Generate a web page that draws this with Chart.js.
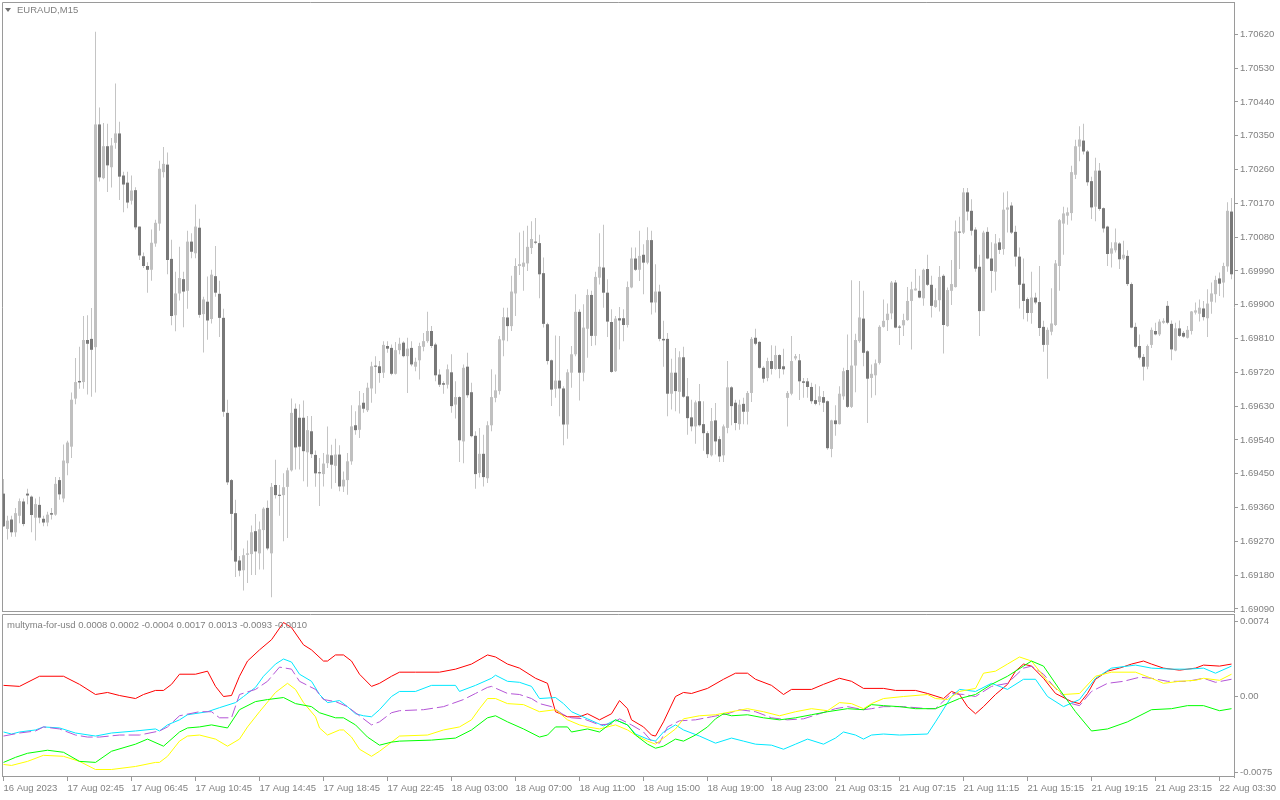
<!DOCTYPE html>
<html>
<head>
<meta charset="utf-8">
<script src="https://cdn.jsdelivr.net/npm/chart.js@4.4.0/dist/chart.umd.min.js"></script>
<style>
html,body{margin:0;padding:0;background:#fff;width:1280px;height:800px;overflow:hidden;}
#main{position:absolute;left:0;top:0;}
#ind{position:absolute;left:0;top:613px;}
.lbl{position:absolute;font-family:"Liberation Sans",Arial,sans-serif;font-size:9.5px;color:#808080;white-space:nowrap;line-height:11px;}
#tri{position:absolute;left:5px;top:8px;width:0;height:0;border-left:3px solid transparent;border-right:3px solid transparent;border-top:4px solid #707070;}
</style>
</head>
<body>
<canvas id="main" width="1280" height="613"></canvas>
<canvas id="ind" width="1280" height="187"></canvas>
<div id="tri"></div>
<div class="lbl" style="left:17px;top:4px;">EURAUD,M15</div>
<div class="lbl" style="left:7px;top:619px;">multyma-for-usd 0.0008 0.0002 -0.0004 0.0017 0.0013 -0.0093 -0.0010</div>
<script>
// ---------------- DATA ----------------
const opens = [
1.69397,1.69303,1.69328,1.69294,1.69338,1.69376,1.69397,1.69389,1.69333,1.69367,
1.69330,1.69320,1.69345,1.69341,1.69433,1.69384,1.69478,1.69522,1.69650,1.69697,
1.69694,1.69806,1.69809,1.69787,1.70380,1.70237,1.70322,1.70266,1.70331,1.70356,
1.70244,1.70225,1.70177,1.70205,1.70108,1.70029,1.70003,1.69993,1.70063,1.70116,
1.70253,1.70273,1.70022,1.69872,1.69930,1.69968,1.69937,1.70068,1.70037,1.70105,
1.69875,1.69908,1.69862,1.69976,1.69929,1.69865,1.69612,1.69433,1.69345,1.69219,
1.69193,1.69234,1.69236,1.69297,1.69238,1.69300,1.69359,1.69238,1.69420,1.69394,
1.69393,1.69415,1.69459,1.69623,1.69599,1.69599,1.69507,1.69563,1.69500,1.69454,
1.69449,1.69478,1.69499,1.69471,1.69501,1.69416,1.69433,1.69483,1.69579,1.69567,
1.69639,1.69619,1.69677,1.69736,1.69736,1.69719,1.69790,1.69785,1.69716,1.69779,
1.69799,1.69763,1.69785,1.69735,1.69752,1.69788,1.69803,1.69830,1.69794,1.69714,
1.69691,1.69687,1.69720,1.69634,1.69654,1.69536,1.69735,1.69667,1.69551,1.69452,
1.69503,1.69438,1.69579,1.69652,1.69670,1.69805,1.69866,1.69843,1.69930,1.70003,
1.70001,1.70010,1.70051,1.70068,1.70064,1.69984,1.69848,1.69752,1.69676,1.69698,
1.69677,1.69581,1.69719,1.69768,1.69881,1.69719,1.69836,1.69926,1.69817,1.69972,
1.69999,1.69932,1.69854,1.69723,1.69864,1.69864,1.69846,1.69946,1.70023,1.69993,
1.70033,1.70012,1.70072,1.69906,1.69935,1.69809,1.69809,1.69663,1.69719,1.69668,
1.69760,1.69656,1.69600,1.69576,1.69643,1.69582,1.69558,1.69499,1.69592,1.69542,
1.69499,1.69572,1.69680,1.69639,1.69582,1.69636,1.69615,1.69665,1.69812,1.69801,
1.69732,1.69705,1.69750,1.69729,1.69766,1.69736,1.69652,1.69663,1.69757,1.69752,
1.69696,1.69696,1.69681,1.69646,1.69641,1.69654,1.69643,1.69516,1.69592,1.69582,
1.69656,1.69726,1.69628,1.69738,1.69803,1.69863,1.69776,1.69705,1.69712,1.69745,
1.69841,1.69859,1.69877,1.69959,1.69841,1.69845,1.69859,1.69910,1.69938,1.69937,
1.69917,1.69995,1.69953,1.69894,1.69912,1.69977,1.69843,1.69937,1.69947,1.70094,
1.70092,1.70199,1.70150,1.70100,1.70001,1.69883,1.70094,1.70023,1.69988,1.70066,
1.70048,1.70153,1.70164,1.70094,1.70028,1.69956,1.69915,1.69878,1.69919,1.69907,
1.69841,1.69793,1.69828,1.69846,1.70003,1.70116,1.70137,1.70144,1.70246,1.70321,
1.70337,1.70308,1.70229,1.70161,1.70257,1.70157,1.70108,1.70036,1.70045,1.70063,
1.70023,1.70030,1.69955,1.69841,1.69790,1.69761,1.69735,1.69793,1.69830,1.69821,
1.69852,1.69897,1.69849,1.69778,1.69837,1.69825,1.69812,1.69830,1.69879,1.69876,
1.69890,1.69864,1.69908,1.69928,1.69970,1.69959,1.70002,1.70148];

const highs = [
1.69436,1.69338,1.69338,1.69359,1.69384,1.69384,1.69410,1.69392,1.69384,1.69389,
1.69338,1.69349,1.69359,1.69441,1.69441,1.69528,1.69538,1.69666,1.69758,1.69788,
1.69870,1.69872,1.69891,1.70627,1.70425,1.70384,1.70382,1.70344,1.70489,1.70387,
1.70254,1.70254,1.70244,1.70213,1.70108,1.70039,1.70013,1.70100,1.70126,1.70283,
1.70320,1.70305,1.70073,1.69988,1.70054,1.69988,1.70097,1.70090,1.70167,1.70129,
1.69921,1.69975,1.69993,1.70056,1.69964,1.69889,1.69647,1.69436,1.69381,1.69231,
1.69251,1.69272,1.69312,1.69343,1.69323,1.69361,1.69379,1.69425,1.69487,1.69420,
1.69451,1.69466,1.69650,1.69637,1.69635,1.69645,1.69604,1.69604,1.69512,1.69492,
1.69505,1.69576,1.69527,1.69543,1.69526,1.69456,1.69505,1.69632,1.69616,1.69670,
1.69665,1.69692,1.69748,1.69763,1.69750,1.69803,1.69803,1.69794,1.69801,1.69812,
1.69803,1.69812,1.69803,1.69759,1.69799,1.69825,1.69881,1.69843,1.69799,1.69728,
1.69696,1.69741,1.69768,1.69696,1.69656,1.69741,1.69772,1.69692,1.69563,1.69572,
1.69554,1.69590,1.69728,1.69714,1.69817,1.69892,1.69892,1.69977,1.70024,1.70092,
1.70097,1.70110,1.70122,1.70131,1.70086,1.70026,1.69852,1.69754,1.69818,1.69817,
1.69683,1.69728,1.69790,1.69928,1.69888,1.69901,1.69941,1.69937,1.69988,1.70090,
1.70113,1.69968,1.69888,1.69870,1.69894,1.69888,1.69962,1.70052,1.70052,1.70097,
1.70061,1.70106,1.70097,1.70008,1.69953,1.69857,1.69825,1.69756,1.69785,1.69776,
1.69788,1.69705,1.69647,1.69645,1.69689,1.69643,1.69563,1.69625,1.69638,1.69550,
1.69581,1.69750,1.69683,1.69647,1.69647,1.69652,1.69670,1.69814,1.69836,1.69803,
1.69736,1.69759,1.69792,1.69791,1.69768,1.69783,1.69670,1.69817,1.69769,1.69769,
1.69705,1.69705,1.69692,1.69688,1.69683,1.69670,1.69645,1.69594,1.69632,1.69683,
1.69732,1.69821,1.69965,1.69823,1.69963,1.69937,1.69779,1.69741,1.69754,1.69845,
1.69914,1.69903,1.69963,1.69966,1.69846,1.69876,1.69947,1.69961,1.69995,1.69977,
1.69996,1.70033,1.69977,1.69944,1.70003,1.69981,1.69946,1.70019,1.70124,1.70134,
1.70211,1.70211,1.70181,1.70106,1.70033,1.70097,1.70106,1.70066,1.70088,1.70077,
1.70199,1.70202,1.70173,1.70110,1.70052,1.70023,1.69919,1.69988,1.69932,1.70003,
1.69857,1.69839,1.69944,1.70019,1.70128,1.70161,1.70159,1.70270,1.70339,1.70375,
1.70382,1.70312,1.70241,1.70291,1.70277,1.70159,1.70110,1.70066,1.70103,1.70066,
1.70070,1.70045,1.69959,1.69852,1.69821,1.69769,1.69794,1.69839,1.69852,1.69861,
1.69864,1.69910,1.69858,1.69852,1.69858,1.69830,1.69843,1.69883,1.69906,1.69914,
1.69910,1.69941,1.69959,1.69977,1.69986,1.70012,1.70173,1.70184];

const lows = [
1.69308,1.69275,1.69282,1.69282,1.69318,1.69310,1.69369,1.69294,1.69272,1.69318,
1.69310,1.69310,1.69328,1.69338,1.69381,1.69374,1.69446,1.69492,1.69635,1.69676,
1.69676,1.69661,1.69655,1.69666,1.70228,1.70234,1.70200,1.70212,1.70315,1.70179,
1.70146,1.70157,1.70167,1.70100,1.70019,1.69998,1.69932,1.69964,1.70054,1.70097,
1.70239,1.69981,1.69845,1.69829,1.69911,1.69840,1.69889,1.70024,1.70024,1.69865,
1.69773,1.69807,1.69850,1.69921,1.69814,1.69602,1.69420,1.69246,1.69175,1.69177,
1.69139,1.69159,1.69180,1.69180,1.69195,1.69195,1.69246,1.69121,1.69384,1.69338,
1.69270,1.69279,1.69456,1.69461,1.69461,1.69430,1.69415,1.69492,1.69415,1.69364,
1.69416,1.69465,1.69410,1.69425,1.69403,1.69401,1.69394,1.69474,1.69554,1.69545,
1.69612,1.69614,1.69639,1.69663,1.69692,1.69705,1.69772,1.69712,1.69714,1.69768,
1.69760,1.69665,1.69736,1.69723,1.69701,1.69776,1.69799,1.69785,1.69696,1.69681,
1.69663,1.69677,1.69612,1.69597,1.69481,1.69478,1.69652,1.69547,1.69410,1.69440,
1.69416,1.69425,1.69563,1.69640,1.69661,1.69763,1.69803,1.69830,1.69870,1.69979,
1.69937,1.69990,1.70035,1.70061,1.69917,1.69839,1.69741,1.69630,1.69652,1.69603,
1.69526,1.69543,1.69679,1.69763,1.69645,1.69696,1.69759,1.69790,1.69792,1.69954,
1.69892,1.69814,1.69719,1.69721,1.69781,1.69803,1.69839,1.69944,1.69990,1.69963,
1.69928,1.70008,1.69874,1.69879,1.69803,1.69735,1.69603,1.69621,1.69616,1.69610,
1.69652,1.69554,1.69563,1.69530,1.69576,1.69511,1.69492,1.69496,1.69501,1.69481,
1.69481,1.69558,1.69579,1.69566,1.69567,1.69582,1.69581,1.69641,1.69792,1.69730,
1.69692,1.69696,1.69714,1.69727,1.69704,1.69714,1.69576,1.69659,1.69752,1.69646,
1.69652,1.69652,1.69636,1.69632,1.69632,1.69614,1.69514,1.69494,1.69551,1.69581,
1.69647,1.69625,1.69625,1.69667,1.69799,1.69736,1.69585,1.69652,1.69659,1.69741,
1.69839,1.69830,1.69861,1.69837,1.69793,1.69817,1.69857,1.69781,1.69938,1.69917,
1.69897,1.69950,1.69866,1.69892,1.69882,1.69770,1.69841,1.69899,1.69946,1.69995,
1.70088,1.70124,1.70084,1.69988,1.69817,1.69883,1.70021,1.69932,1.69938,1.70035,
1.70033,1.70092,1.70088,1.70002,1.69890,1.69861,1.69855,1.69849,1.69901,1.69817,
1.69775,1.69703,1.69819,1.69843,1.69937,1.70033,1.70113,1.70124,1.70235,1.70282,
1.70300,1.70217,1.70128,1.70122,1.70150,1.70092,1.70003,1.69999,1.70039,1.69995,
1.70019,1.69950,1.69837,1.69784,1.69754,1.69698,1.69728,1.69785,1.69819,1.69817,
1.69849,1.69848,1.69752,1.69776,1.69814,1.69812,1.69810,1.69821,1.69874,1.69855,
1.69858,1.69814,1.69876,1.69906,1.69923,1.69919,1.69988,1.69968];

const closes = [
1.69310,1.69325,1.69294,1.69345,1.69377,1.69316,1.69392,1.69340,1.69369,1.69333,
1.69320,1.69341,1.69341,1.69423,1.69395,1.69485,1.69533,1.69647,1.69694,1.69693,
1.69806,1.69796,1.69780,1.70380,1.70239,1.70322,1.70271,1.70324,1.70356,1.70241,
1.70220,1.70172,1.70204,1.70106,1.70031,1.70003,1.69993,1.70065,1.70118,1.70262,
1.70275,1.70019,1.69870,1.69930,1.69971,1.69935,1.70068,1.70041,1.70108,1.69873,
1.69914,1.69858,1.69980,1.69932,1.69865,1.69615,1.69427,1.69343,1.69216,1.69192,
1.69233,1.69238,1.69294,1.69243,1.69302,1.69357,1.69251,1.69415,1.69393,1.69391,
1.69414,1.69459,1.69612,1.69520,1.69522,1.69510,1.69566,1.69502,1.69451,1.69451,
1.69477,1.69501,1.69474,1.69501,1.69416,1.69434,1.69483,1.69576,1.69566,1.69632,
1.69623,1.69679,1.69736,1.69735,1.69718,1.69793,1.69783,1.69716,1.69779,1.69796,
1.69763,1.69783,1.69741,1.69748,1.69790,1.69803,1.69830,1.69790,1.69712,1.69687,
1.69687,1.69728,1.69630,1.69654,1.69539,1.69732,1.69659,1.69550,1.69449,1.69503,
1.69441,1.69579,1.69654,1.69672,1.69808,1.69867,1.69843,1.69935,1.70003,1.70008,
1.70012,1.70054,1.70075,1.70065,1.69981,1.69849,1.69750,1.69674,1.69698,1.69677,
1.69581,1.69720,1.69768,1.69881,1.69719,1.69839,1.69926,1.69817,1.69974,1.70001,
1.69932,1.69855,1.69721,1.69863,1.69858,1.69846,1.69947,1.70023,1.69993,1.70030,
1.70012,1.70072,1.69906,1.69935,1.69809,1.69805,1.69663,1.69719,1.69670,1.69760,
1.69655,1.69598,1.69576,1.69640,1.69579,1.69558,1.69502,1.69590,1.69536,1.69496,
1.69576,1.69680,1.69630,1.69585,1.69634,1.69615,1.69665,1.69809,1.69796,1.69732,
1.69703,1.69750,1.69729,1.69766,1.69729,1.69728,1.69665,1.69750,1.69763,1.69696,
1.69692,1.69681,1.69643,1.69636,1.69656,1.69639,1.69518,1.69592,1.69582,1.69663,
1.69723,1.69628,1.69738,1.69806,1.69866,1.69772,1.69703,1.69716,1.69744,1.69841,
1.69857,1.69876,1.69959,1.69839,1.69839,1.69859,1.69910,1.69941,1.69943,1.69919,
1.69993,1.69953,1.69897,1.69912,1.69974,1.69846,1.69939,1.69955,1.70095,1.70092,
1.70199,1.70148,1.70097,1.69996,1.69883,1.70092,1.70023,1.69990,1.70063,1.70046,
1.70153,1.70159,1.70092,1.70028,1.69953,1.69910,1.69878,1.69919,1.69906,1.69838,
1.69793,1.69833,1.69850,1.70010,1.70125,1.70143,1.70146,1.70253,1.70322,1.70340,
1.70308,1.70226,1.70159,1.70257,1.70155,1.70103,1.70035,1.70050,1.70066,1.70021,
1.70033,1.69955,1.69839,1.69788,1.69759,1.69735,1.69790,1.69833,1.69821,1.69855,
1.69857,1.69852,1.69781,1.69837,1.69817,1.69815,1.69833,1.69882,1.69885,1.69892,
1.69867,1.69903,1.69930,1.69966,1.69956,1.70003,1.70150,1.69981];

const priceTicks = [1.70620,1.70530,1.70440,1.70350,1.70260,1.70170,1.70080,1.69990,1.69900,
  1.69810,1.69720,1.69630,1.69540,1.69450,1.69360,1.69270,1.69180,1.69090];
const indTicks = [0.0074, 0.0, -0.0075];
const timeTickBars = [0,16,32,48,64,80,96,112,128,144,160,176,192,208,224,240,256,272,288,304];
const timeLabels = ["16 Aug 2023","17 Aug 02:45","17 Aug 06:45","17 Aug 10:45","17 Aug 14:45",
  "17 Aug 18:45","17 Aug 22:45","18 Aug 03:00","18 Aug 07:00","18 Aug 11:00","18 Aug 15:00",
  "18 Aug 19:00","18 Aug 23:00","21 Aug 03:15","21 Aug 07:15","21 Aug 11:15","21 Aug 15:15",
  "21 Aug 19:15","21 Aug 23:15","22 Aug 03:30"];

// indicator lines: [bar index, value]
const redLine = [[0,0.0011],[4,0.0010],[9,0.0020],[15,0.0020],[19,0.0012],[23,0.0002],[26,0.0004],[29,0.0001],[33,-0.0002],[35,0.0002],[38,0.0006],[40,0.0006],[42,0.0012],[44,0.0022],[48,0.0022],[51,0.0025],[53,0.0010],[55,0.0000],[57,0.0001],[59,0.0020],[61,0.0035],[64,0.0046],[67,0.0056],[70,0.0073],[72,0.0068],[75,0.0051],[77,0.0046],[80,0.0035],[81,0.0035],[83,0.0041],[85,0.0041],[87,0.0035],[89,0.0022],[92,0.0010],[94,0.0013],[97,0.0020],[99,0.0024],[103,0.0024],[109,0.0024],[113,0.0027],[117,0.0032],[121,0.0041],[123,0.0039],[126,0.0032],[129,0.0028],[133,0.0018],[136,0.0013],[138,-0.0015],[141,-0.0020],[144,-0.0020],[146,-0.0017],[149,-0.0023],[152,-0.0017],[154,-0.0004],[156,-0.0012],[157,-0.0023],[160,-0.0030],[162,-0.0038],[163,-0.0039],[165,-0.0025],[168,0.0000],[170,0.0004],[172,0.0003],[176,0.0008],[180,0.0017],[183,0.0023],[186,0.0023],[188,0.0017],[192,0.0011],[195,0.0002],[197,0.0007],[202,0.0007],[205,0.0012],[209,0.0018],[212,0.0015],[215,0.0008],[220,0.0008],[223,0.0006],[228,0.0006],[231,0.0003],[235,-0.0002],[237,0.0005],[239,0.0002],[241,-0.0010],[243,-0.0017],[245,-0.0010],[248,0.0002],[251,0.0012],[253,0.0025],[255,0.0032],[257,0.0030],[260,0.0018],[263,0.0003],[267,-0.0005],[269,-0.0007],[271,0.0003],[273,0.0017],[276,0.0025],[279,0.0028],[282,0.0032],[285,0.0035],[287,0.0032],[290,0.0028],[294,0.0026],[298,0.0028],[300,0.0031],[304,0.0030],[307,0.0032]];

const cyanLine = [[0,-0.0035],[2,-0.0037],[4,-0.0035],[8,-0.0033],[10,-0.0030],[14,-0.0031],[18,-0.0036],[23,-0.0039],[27,-0.0036],[33,-0.0034],[38,-0.0032],[39,-0.0034],[41,-0.0028],[44,-0.0023],[46,-0.0018],[51,-0.0015],[54,-0.0011],[58,-0.0006],[60,0.0000],[63,0.0009],[65,0.0020],[68,0.0032],[70,0.0037],[72,0.0034],[74,0.0022],[77,0.0015],[79,0.0002],[81,-0.0006],[84,-0.0004],[86,-0.0010],[88,-0.0017],[90,-0.0019],[92,-0.0020],[94,-0.0013],[97,0.0000],[99,0.0005],[103,0.0005],[107,0.0011],[113,0.0011],[114,0.0005],[118,0.0011],[122,0.0018],[123,0.0021],[126,0.0015],[129,0.0014],[132,0.0010],[134,-0.0002],[138,-0.0001],[140,-0.0007],[142,-0.0015],[146,-0.0022],[150,-0.0029],[153,-0.0023],[156,-0.0028],[158,-0.0037],[161,-0.0042],[163,-0.0044],[165,-0.0035],[168,-0.0028],[170,-0.0033],[174,-0.0039],[178,-0.0046],[182,-0.0041],[185,-0.0044],[188,-0.0047],[192,-0.0048],[195,-0.0052],[198,-0.0047],[201,-0.0042],[205,-0.0047],[208,-0.0041],[210,-0.0035],[213,-0.0038],[215,-0.0042],[217,-0.0038],[220,-0.0037],[224,-0.0038],[231,-0.0037],[233,-0.0025],[237,0.0000],[239,0.0007],[243,0.0005],[247,0.0013],[251,0.0007],[255,0.0017],[258,0.0017],[261,0.0000],[265,-0.0010],[269,-0.0003],[273,0.0018],[277,0.0028],[283,0.0031],[287,0.0028],[292,0.0027],[296,0.0027],[300,0.0028],[303,0.0023],[307,0.0030]];

const violetLine = [[0,-0.0039],[4,-0.0036],[8,-0.0034],[10,-0.0030],[14,-0.0032],[18,-0.0038],[21,-0.0040],[24,-0.0040],[29,-0.0038],[34,-0.0038],[39,-0.0034],[41,-0.0030],[44,-0.0019],[49,-0.0015],[52,-0.0015],[54,-0.0021],[57,-0.0021],[59,0.0002],[63,0.0007],[66,0.0015],[69,0.0029],[72,0.0027],[74,0.0015],[78,0.0007],[80,-0.0003],[83,-0.0005],[86,-0.0010],[89,-0.0019],[92,-0.0028],[94,-0.0025],[97,-0.0016],[99,-0.0014],[105,-0.0013],[110,-0.0010],[115,-0.0003],[118,0.0003],[121,0.0009],[122,0.0010],[126,0.0003],[129,0.0002],[132,-0.0002],[134,-0.0007],[137,-0.0010],[140,-0.0018],[142,-0.0021],[145,-0.0022],[149,-0.0028],[152,-0.0027],[154,-0.0022],[157,-0.0028],[160,-0.0035],[162,-0.0044],[164,-0.0046],[166,-0.0030],[169,-0.0024],[173,-0.0023],[177,-0.0020],[181,-0.0017],[184,-0.0013],[188,-0.0015],[192,-0.0021],[196,-0.0023],[200,-0.0022],[204,-0.0017],[208,-0.0012],[211,-0.0010],[215,-0.0013],[217,-0.0012],[220,-0.0010],[225,-0.0010],[231,-0.0012],[233,-0.0012],[237,0.0003],[240,0.0002],[243,0.0000],[247,0.0010],[251,0.0013],[255,0.0028],[257,0.0030],[260,0.0022],[263,0.0008],[267,-0.0007],[269,-0.0009],[272,0.0005],[276,0.0013],[280,0.0015],[284,0.0019],[287,0.0018],[291,0.0015],[296,0.0015],[300,0.0018],[303,0.0014],[307,0.0017]];

const yellowLine = [[0,-0.0067],[2,-0.0068],[6,-0.0064],[10,-0.0058],[15,-0.0059],[19,-0.0064],[23,-0.0072],[27,-0.0072],[33,-0.0069],[38,-0.0065],[39,-0.0065],[41,-0.0059],[44,-0.0044],[46,-0.0039],[49,-0.0038],[53,-0.0042],[56,-0.0049],[59,-0.0042],[61,-0.0030],[64,-0.0015],[68,0.0004],[71,0.0013],[73,0.0007],[75,-0.0006],[78,-0.0020],[79,-0.0031],[81,-0.0038],[84,-0.0033],[85,-0.0033],[87,-0.0040],[89,-0.0052],[92,-0.0059],[94,-0.0054],[97,-0.0045],[99,-0.0039],[106,-0.0038],[110,-0.0033],[114,-0.0030],[117,-0.0023],[119,-0.0012],[121,-0.0002],[123,-0.0002],[126,-0.0007],[130,-0.0008],[134,-0.0015],[138,-0.0013],[141,-0.0023],[144,-0.0028],[146,-0.0030],[149,-0.0032],[153,-0.0028],[156,-0.0033],[158,-0.0038],[161,-0.0044],[163,-0.0047],[165,-0.0041],[168,-0.0032],[170,-0.0022],[174,-0.0019],[178,-0.0018],[182,-0.0015],[186,-0.0012],[190,-0.0015],[194,-0.0019],[198,-0.0015],[202,-0.0012],[206,-0.0014],[209,-0.0006],[212,-0.0007],[215,-0.0012],[217,-0.0007],[220,-0.0002],[225,0.0000],[231,0.0002],[233,-0.0002],[236,-0.0003],[239,0.0005],[243,0.0008],[245,0.0023],[248,0.0025],[251,0.0032],[254,0.0039],[257,0.0035],[261,0.0015],[265,0.0002],[269,0.0003],[273,0.0020],[277,0.0024],[283,0.0024],[287,0.0018],[290,0.0013],[294,0.0015],[298,0.0016],[300,0.0018],[304,0.0016],[307,0.0022]];

const greenLine = [[0,-0.0065],[3,-0.0060],[6,-0.0056],[11,-0.0053],[15,-0.0055],[19,-0.0064],[23,-0.0065],[27,-0.0054],[33,-0.0047],[36,-0.0042],[40,-0.0049],[44,-0.0035],[46,-0.0031],[49,-0.0030],[52,-0.0028],[56,-0.0031],[59,-0.0013],[63,-0.0005],[66,-0.0003],[70,-0.0001],[73,-0.0007],[77,-0.0010],[79,-0.0016],[83,-0.0021],[85,-0.0021],[88,-0.0028],[91,-0.0040],[94,-0.0048],[97,-0.0045],[99,-0.0044],[107,-0.0043],[113,-0.0041],[117,-0.0033],[121,-0.0021],[123,-0.0019],[126,-0.0025],[130,-0.0032],[134,-0.0040],[136,-0.0038],[138,-0.0030],[141,-0.0030],[142,-0.0035],[146,-0.0032],[149,-0.0035],[153,-0.0023],[156,-0.0028],[158,-0.0038],[161,-0.0047],[163,-0.0051],[165,-0.0049],[168,-0.0042],[170,-0.0044],[173,-0.0038],[176,-0.0030],[178,-0.0022],[180,-0.0017],[182,-0.0019],[186,-0.0018],[190,-0.0021],[194,-0.0023],[198,-0.0021],[202,-0.0018],[206,-0.0015],[211,-0.0012],[215,-0.0013],[217,-0.0008],[220,-0.0009],[224,-0.0010],[228,-0.0012],[233,-0.0012],[236,-0.0007],[239,-0.0002],[243,0.0002],[247,0.0012],[251,0.0020],[255,0.0030],[257,0.0035],[260,0.0030],[264,0.0007],[268,-0.0015],[272,-0.0034],[276,-0.0032],[281,-0.0025],[287,-0.0013],[292,-0.0012],[296,-0.0009],[300,-0.0009],[304,-0.0014],[307,-0.0012]];

// ---------------- STYLE ----------------
const FONT = {family: '"Liberation Sans", Arial, sans-serif', size: 9.5};
const TXT = '#808080';
const FRAME = '#9a9a9a';
const BULL = '#c0c0c0';
const BEAR = '#787878';
const WICK = '#c4c4c4';
const XMIN = -0.375, XMAX = 307.625;

Chart.defaults.font.family = FONT.family;
Chart.defaults.font.size = FONT.size;
Chart.defaults.color = TXT;

const framePlugin = {
  id: 'frame',
  afterDraw(chart) {
    const {ctx, chartArea: a} = chart;
    ctx.save();
    ctx.strokeStyle = FRAME;
    ctx.lineWidth = 1;
    ctx.beginPath();
    ctx.moveTo(a.left + 0.5, a.bottom);
    ctx.lineTo(a.left + 0.5, a.top + 0.5);
    ctx.lineTo(a.right, a.top + 0.5);
    ctx.moveTo(a.left, a.bottom - 0.5);
    ctx.lineTo(a.right, a.bottom - 0.5);
    ctx.stroke();
    ctx.restore();
  }
};

function fixY(s) { s.width = 46; s.paddingTop = 0; s.paddingBottom = 0; }

// ---------------- MAIN (candles) ----------------
const wickData = opens.map((o, i) => ({x: i, y: [lows[i], highs[i]]}));
const bodyData = opens.map((o, i) => ({x: i, y: [o, closes[i]]}));

new Chart(document.getElementById('main'), {
  type: 'bar',
  data: {
    datasets: [
      {data: wickData, backgroundColor: WICK, barThickness: 1, grouped: false, order: 2,
       borderWidth: 0, inflateAmount: 0, minBarLength: 1},
      {data: bodyData, grouped: false, order: 1, barThickness: 3, borderWidth: 0, inflateAmount: 0, minBarLength: 1,
       backgroundColor: c => (closes[c.dataIndex] >= opens[c.dataIndex] ? BULL : BEAR)}
    ]
  },
  options: {
    responsive: false, maintainAspectRatio: false, animation: false, devicePixelRatio: 1,
    layout: {padding: {left: 2, top: 2, right: 0, bottom: 1}},
    plugins: {legend: {display: false}, tooltip: {enabled: false}},
    scales: {
      x: {type: 'linear', min: XMIN, max: XMAX, offset: false, display: false},
      y: {
        type: 'linear', position: 'right', min: 1.690818, max: 1.70706, bounds: 'data', beginAtZero: false,
        afterFit: fixY,
        afterBuildTicks: s => { s.ticks = priceTicks.map(v => ({value: v})); },
        ticks: {autoSkip: false, padding: 2, color: TXT, font: FONT, callback: v => Number(v).toFixed(5)},
        grid: {display: true, drawOnChartArea: false, drawTicks: true, tickLength: 4, color: FRAME},
        border: {display: true, color: FRAME}
      }
    }
  },
  plugins: [framePlugin]
});

// ---------------- INDICATOR ----------------
const toPts = arr => arr.map(p => ({x: p[0], y: p[1]}));
const lineDs = (arr, color, dash) => ({
  type: 'line', data: toPts(arr), borderColor: color, borderWidth: 1, pointRadius: 0,
  tension: 0, fill: false, borderDash: dash || []
});

new Chart(document.getElementById('ind'), {
  type: 'line',
  data: {
    datasets: [
      lineDs(greenLine, '#00ff00'),
      lineDs(yellowLine, '#ffff00'),
      lineDs(violetLine, '#b455d6', [12, 4]),
      lineDs(cyanLine, '#00e8ff'),
      lineDs(redLine, '#ff0000')
    ]
  },
  options: {
    responsive: false, maintainAspectRatio: false, animation: false, devicePixelRatio: 1,
    layout: {padding: {left: 2, top: 1, right: 0, bottom: 0}},
    plugins: {legend: {display: false}, tooltip: {enabled: false}},
    scales: {
      x: {
        type: 'linear', min: XMIN, max: XMAX, offset: false, bounds: 'data',
        afterFit: s => { s.height = 23; s.paddingLeft = 0; s.paddingRight = 0; },
        afterBuildTicks: s => { s.ticks = timeTickBars.map(v => ({value: v})); },
        ticks: {autoSkip: false, maxRotation: 0, minRotation: 0, align: 'start', padding: 2, color: TXT, font: FONT,
                callback: (v, i) => timeLabels[i]},
        grid: {display: true, drawOnChartArea: false, drawTicks: true, tickLength: 4, color: FRAME},
        border: {display: false}
      },
      y: {
        type: 'linear', position: 'right', min: -0.00794, max: 0.00814, bounds: 'data',
        afterFit: fixY,
        afterBuildTicks: s => { s.ticks = indTicks.map(v => ({value: v})); },
        ticks: {autoSkip: false, padding: 2, color: TXT, font: FONT,
                callback: v => (v === 0 ? '0.00' : Number(v).toFixed(4))},
        grid: {display: true, drawOnChartArea: false, drawTicks: true, tickLength: 4, color: FRAME},
        border: {display: true, color: FRAME}
      }
    }
  },
  plugins: [framePlugin]
});
</script>
</body>
</html>
